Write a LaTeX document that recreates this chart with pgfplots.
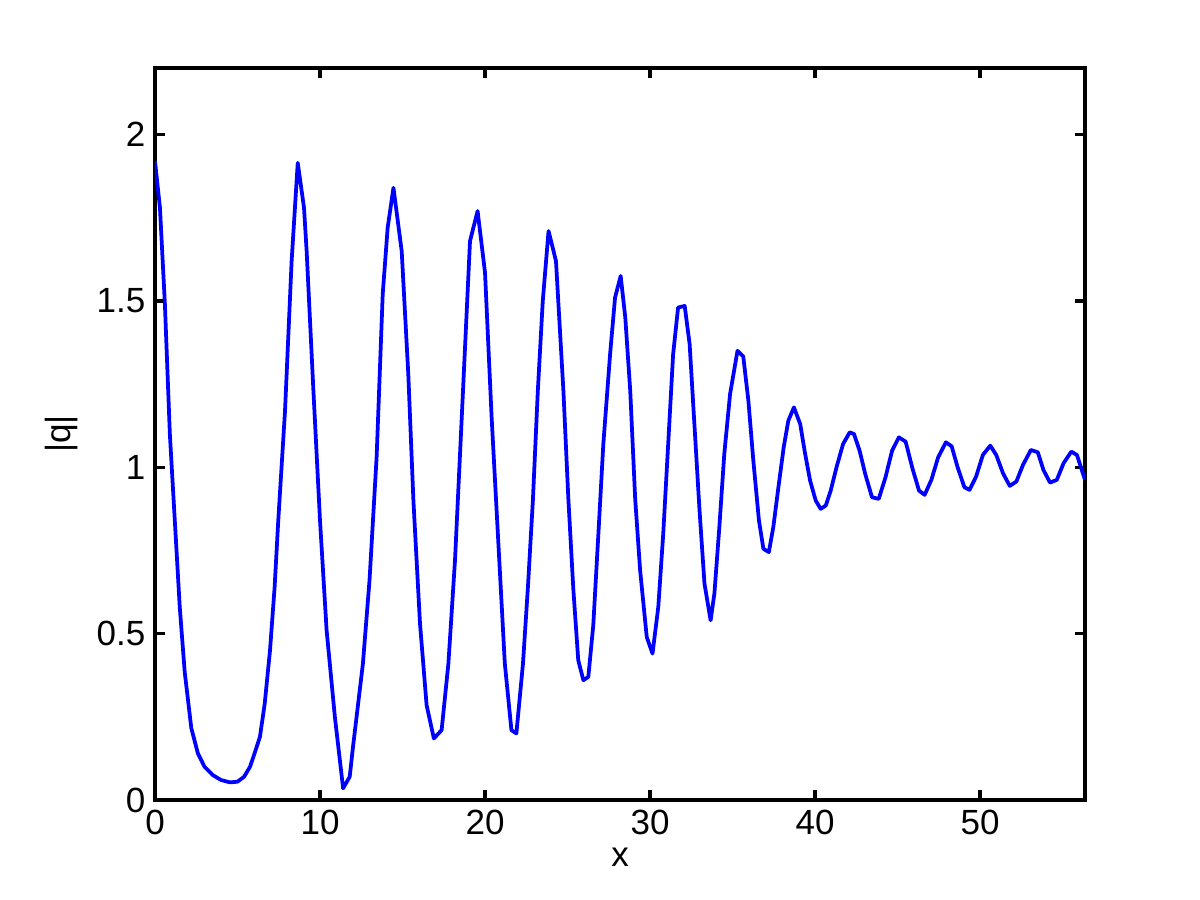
\documentclass[border=0pt]{standalone}
\usepackage{fontspec}
\setmainfont{Liberation Sans}
\usepackage{pgfplots}
\pgfplotsset{compat=1.18}
\begin{document}
\fontsize{14}{16}\selectfont
\begin{tikzpicture}[x=0.4pt,y=0.4pt]
\useasboundingbox (0,0) rectangle (1200,900);
\begin{axis}[
  at={(155*0.4pt,100*0.4pt)}, anchor=south west,
  scale only axis, width=930*0.4pt, height=732*0.4pt,
  xmin=0, xmax=56.36, ymin=0, ymax=2.2,
  xtick={0,10,20,30,40,50},
  ytick={0,0.5,1,1.5,2},
  yticklabels={0,0.5,1,1.5,2},
  tick align=inside,
  major tick length=10*0.4pt,
  axis line style={line width=1.3pt},
  every tick/.style={black,line width=1.3pt},
  /pgf/number format/assume math mode=true,
  tick label style={font=\fontsize{14}{16}\selectfont},
  label style={font=\fontsize{14}{16}\selectfont},
  xticklabel style={yshift=1pt},
  yticklabel style={xshift=1pt},
  xlabel={x}, ylabel={|q|},
  xlabel style={yshift=4pt},
  ylabel style={yshift=-2pt},
]
\addplot[color={rgb,255:red,0;green,0;blue,255}, line width=1.5pt, line join=round] coordinates {
(0,1.92)(0.3,1.78)(0.6,1.49)(0.9,1.10)(1.2,0.84)(1.5,0.58)(1.8,0.385)(2.2,0.216)(2.6,0.14)(3.0,0.10)(3.5,0.075)(4.0,0.06)
(4.55,0.053)(5.0,0.055)(5.4,0.07)(5.76,0.10)(6.1,0.15)(6.36,0.19)(6.65,0.29)(6.97,0.45)(7.25,0.64)(7.47,0.84)(7.88,1.17)(8.28,1.62)(8.65,1.915)(9.03,1.78)(9.19,1.65)
(9.6,1.23)(10.0,0.84)(10.4,0.51)(10.9,0.25)(11.4,0.035)(11.8,0.07)(12.0,0.16)(12.6,0.41)(13.0,0.66)(13.43,1.03)
(13.8,1.52)(14.1,1.72)(14.45,1.84)(14.95,1.65)(15.35,1.28)(15.66,0.90)(16.06,0.53)(16.46,0.285)(16.9,0.185)(17.37,0.21)
(17.78,0.41)(18.18,0.72)(18.59,1.15)(19.09,1.68)(19.55,1.77)(20.0,1.585)(20.4,1.15)(20.8,0.78)(21.2,0.41)(21.6,0.21)
(21.9,0.20)(22.3,0.41)(22.6,0.64)(22.9,0.90)(23.2,1.23)(23.5,1.50)(23.85,1.71)(24.3,1.62)(24.75,1.23)(25.05,0.905)
(25.35,0.635)(25.65,0.42)(25.96,0.36)(26.26,0.37)(26.56,0.525)(26.87,0.80)(27.17,1.07)(27.58,1.34)(27.88,1.51)(28.22,1.575)
(28.5,1.45)(28.8,1.23)(29.1,0.905)(29.4,0.69)(29.8,0.49)(30.15,0.44)(30.5,0.58)(30.8,0.80)(31.1,1.07)(31.4,1.34)
(31.7,1.48)(32.1,1.485)(32.4,1.37)(32.7,1.12)(33.0,0.87)(33.3,0.65)(33.67,0.54)(33.9,0.62)(34.2,0.82)(34.5,1.04)
(34.85,1.22)(35.3,1.35)(35.65,1.333)(35.96,1.20)(36.26,1.02)(36.6,0.84)(36.87,0.755)(37.2,0.745)(37.47,0.82)(37.78,0.94)
(38.1,1.06)(38.38,1.14)(38.72,1.18)(39.1,1.13)(39.4,1.04)(39.7,0.96)(40.04,0.90)(40.34,0.875)(40.65,0.885)(40.95,0.93)
(41.3,1.00)(41.7,1.07)(42.1,1.105)(42.36,1.10)(42.7,1.05)(43.04,0.98)(43.45,0.91)(43.86,0.905)(44.27,0.97)(44.67,1.05)
(45.08,1.09)(45.49,1.077)(45.9,0.997)(46.3,0.93)(46.64,0.917)(47.05,0.962)(47.46,1.03)(47.93,1.075)(48.28,1.063)(48.64,1.00)
(49.05,0.94)(49.36,0.932)(49.76,0.972)(50.17,1.037)(50.62,1.065)(50.98,1.037)(51.39,0.982)(51.8,0.944)(52.2,0.957)(52.6,1.007)
(53.08,1.052)(53.5,1.045)(53.84,0.992)(54.24,0.954)(54.65,0.962)(55.06,1.012)(55.53,1.047)(55.87,1.037)(56.36,0.962)
};
\end{axis}
\end{tikzpicture}
\end{document}
